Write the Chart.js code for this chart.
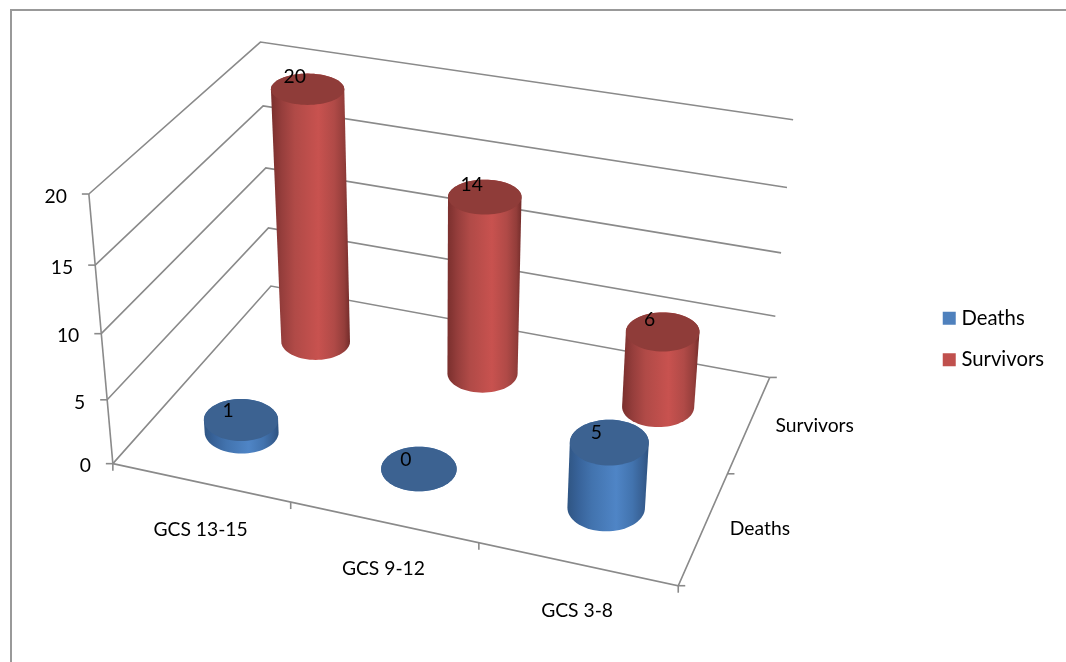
<!DOCTYPE html>
<html>
<head>
<meta charset="utf-8">
<style>
    html, body { margin: 0; padding: 0; background: #fff; overflow: hidden; }
    #frame { position: absolute; left: 10px; top: 9px; right: -4px; bottom: -4px; border: 2px solid #999; }
    #wrap { position: absolute; left: 0; top: 0; width: 1066px; height: 662px; }
</style>
</head>
<body>
<div id="frame"></div>
<div id="wrap"><canvas id="chart" width="1066" height="662"></canvas></div>
<script src="https://cdn.jsdelivr.net/npm/chart.js@4"></script>
<script>
const categories = ['GCS 13-15', 'GCS 9-12', 'GCS 3-8'];
const seriesNames = ['Deaths', 'Survivors'];
const deaths = [1, 0, 5];
const survivors = [20, 14, 6];

const FONT = { family: 'Lato', size: 19.3 };
const LEGEND_FONT = { family: 'Lato', size: 20.3 };
const LINE = '#8a8a8a';
const DEPTH_PERCENT = 0.41;

// Where the corners and grid ends of the 3D box sit on the page: [u, d, v, px, py]
const calibration = [
    [0, 0, 0, 113, 464], [1, 0, 0, 678, 586], [1, 1, 0, 770, 377], [0, 1, 0, 271, 286],
    [0, 0, 1, 89, 194], [0, 1, 1, 260, 42], [1, 1, 1, 793, 120],
    [0, 0, 0.75, 95.6, 265], [0, 0, 0.5, 101, 333], [0, 0, 0.25, 107, 400],
    [0, 1, 0.75, 263, 106], [0, 1, 0.5, 266, 168], [0, 1, 0.25, 268.5, 228],
    [1, 1, 0.75, 787.5, 187.5], [1, 1, 0.5, 781, 253], [1, 1, 0.25, 775, 316]
];

// Least squares fit of the camera matrix
function fitCamera(points) {
    const n = 11;
    const A = Array.from({ length: n }, () => new Array(n + 1).fill(0));
    const addRow = (row, rhs) => {
        for (let i = 0; i < n; i++) {
            for (let j = 0; j < n; j++) A[i][j] += row[i] * row[j];
            A[i][n] += row[i] * rhs;
        }
    };
    points.forEach(([u, d, v, px, py]) => {
        const x = px / 1000, y = py / 1000;
        addRow([u, d, v, 1, 0, 0, 0, 0, -x * u, -x * d, -x * v], x);
        addRow([0, 0, 0, 0, u, d, v, 1, -y * u, -y * d, -y * v], y);
    });
    for (let i = 0; i < n; i++) {
        let best = i;
        for (let r = i + 1; r < n; r++) if (Math.abs(A[r][i]) > Math.abs(A[best][i])) best = r;
        [A[i], A[best]] = [A[best], A[i]];
        for (let r = 0; r < n; r++) {
            if (r === i) continue;
            const f = A[r][i] / A[i][i];
            for (let c = i; c <= n; c++) A[r][c] -= f * A[i][c];
        }
    }
    return A.map((row, i) => row[n] / row[i]);
}

const cam = fitCamera(calibration);

function project(u, d, v) {
    const w = cam[8] * u + cam[9] * d + cam[10] * v + 1;
    return {
        x: 1000 * (cam[0] * u + cam[1] * d + cam[2] * v + cam[3]) / w,
        y: 1000 * (cam[4] * u + cam[5] * d + cam[6] * v + cam[7]) / w
    };
}

// Scale pixels to box fractions
const fracU = (chart, px) => (px - chart.chartArea.left) / chart.chartArea.width;
const fracV = (chart, px) => (chart.chartArea.bottom - px) / chart.chartArea.height;
const depthOf = (chart, index) => fracV(chart, chart.scales.depth.getPixelForValue(index));

function polyline(ctx, pts) {
    ctx.beginPath();
    pts.forEach((p, i) => i ? ctx.lineTo(p.x, p.y) : ctx.moveTo(p.x, p.y));
    ctx.stroke();
}

function tracePolygon(ctx, pts) {
    ctx.beginPath();
    pts.forEach((p, i) => i ? ctx.lineTo(p.x, p.y) : ctx.moveTo(p.x, p.y));
    ctx.closePath();
}

function convexHull(points) {
    const pts = points.slice().sort((a, b) => a.x - b.x || a.y - b.y);
    const cross = (o, a, b) => (a.x - o.x) * (b.y - o.y) - (a.y - o.y) * (b.x - o.x);
    const half = list => {
        const out = [];
        list.forEach(p => {
            while (out.length > 1 && cross(out[out.length - 2], out[out.length - 1], p) <= 0) out.pop();
            out.push(p);
        });
        out.pop();
        return out;
    };
    return half(pts).concat(half(pts.slice().reverse()));
}

// Cylinder end: a floor circle projected, then squared up to an upright ellipse
function disc(u, d, v, ru, rd) {
    const ring = [];
    for (let i = 0; i < 72; i++) {
        const t = i / 72 * Math.PI * 2;
        ring.push(project(u + ru * Math.cos(t), d + rd * Math.sin(t), v));
    }
    const xs = ring.map(p => p.x), ys = ring.map(p => p.y);
    const minX = Math.min(...xs), maxX = Math.max(...xs), minY = Math.min(...ys), maxY = Math.max(...ys);
    return ring.map((p, i) => {
        const t = i / 72 * Math.PI * 2;
        return {
            x: (minX + maxX) / 2 + (maxX - minX) / 2 * Math.cos(t),
            y: (minY + maxY) / 2 + (maxY - minY) / 2 * Math.sin(t)
        };
    });
}

// Bars drawn as cylinders standing on the floor of the box
class Cylinder3D extends Chart.BarController {
    draw() {
        const chart = this.chart;
        const ctx = chart.ctx;
        const dataset = this.getDataset();
        const d = depthOf(chart, seriesNames.indexOf(dataset.label));
        const rd = DEPTH_PERCENT / seriesNames.length / 2;
        this.getMeta().data.forEach(bar => {
            const u = fracU(chart, bar.x);
            const ru = bar.width / chart.chartArea.width / 2;
            const top = disc(u, d, fracV(chart, bar.y), ru, rd);
            const base = disc(u, d, fracV(chart, bar.base), ru, rd);
            const hull = convexHull(top.concat(base));
            const xs = hull.map(p => p.x);
            const grad = ctx.createLinearGradient(Math.min(...xs), 0, Math.max(...xs), 0);
            dataset.bodyStops.forEach(([at, color]) => grad.addColorStop(at, color));
            ctx.save();
            tracePolygon(ctx, hull);
            ctx.fillStyle = grad;
            ctx.fill();
            tracePolygon(ctx, top);
            ctx.fillStyle = dataset.topColor;
            ctx.fill();
            ctx.restore();
        });
    }
}
Cylinder3D.id = 'cylinder3d';
Cylinder3D.defaults = Chart.BarController.defaults;
Cylinder3D.overrides = Chart.BarController.overrides;
Chart.register(Cylinder3D);

const box3d = {
    id: 'box3d',
    beforeDatasetsDraw(chart) {
        const ctx = chart.ctx;
        ctx.save();
        ctx.strokeStyle = LINE;
        ctx.lineWidth = 1.6;
        ctx.fillStyle = '#000';
        ctx.font = `${FONT.size}px ${FONT.family}`;
        ctx.textBaseline = 'middle';

        // Walls and value axis
        const yScale = chart.scales.y;
        polyline(ctx, [project(0, 0, 0), project(0, 0, 1)]);
        yScale.ticks.forEach(tick => {
            const v = fracV(chart, yScale.getPixelForValue(tick.value));
            const front = project(0, 0, v);
            polyline(ctx, [front, project(0, 1, v), project(1, 1, v)]);
            polyline(ctx, [{ x: front.x - 7, y: front.y }, front]);
            ctx.textAlign = 'right';
            ctx.fillText(String(tick.value), front.x - 22, front.y + 2.5);
        });

        // Floor edges
        polyline(ctx, [project(0, 0, 0), project(1, 0, 0), project(1, 1, 0)]);

        // Category axis
        const xScale = chart.scales.x;
        ctx.textAlign = 'center';
        categories.forEach((name, i) => {
            const u = fracU(chart, xScale.getPixelForValue(i));
            const p = project(u, 0, 0);
            ctx.fillText(name, p.x, p.y + 47);
        });
        for (let i = 0; i <= categories.length; i++) {
            const p = project(i / categories.length, 0, 0);
            polyline(ctx, [p, { x: p.x, y: p.y + 7 }]);
        }

        // Depth axis
        ctx.textAlign = 'left';
        seriesNames.forEach((name, i) => {
            const p = project(1, depthOf(chart, i), 0);
            ctx.fillText(name, p.x + 26, p.y + 1.5);
        });
        for (let i = 0; i <= seriesNames.length; i++) {
            const p = project(1, i / seriesNames.length, 0);
            polyline(ctx, [p, { x: p.x + 7, y: p.y }]);
        }
        ctx.restore();
    },
    afterDatasetsDraw(chart) {
        // Value labels near the top of each cylinder
        const ctx = chart.ctx;
        ctx.save();
        ctx.fillStyle = '#000';
        ctx.font = `${FONT.size}px ${FONT.family}`;
        ctx.textAlign = 'center';
        ctx.textBaseline = 'middle';
        chart.data.datasets.forEach((dataset, di) => {
            const d = depthOf(chart, seriesNames.indexOf(dataset.label));
            chart.getDatasetMeta(di).data.forEach((bar, i) => {
                const p = project(fracU(chart, bar.x), d, fracV(chart, bar.y));
                ctx.fillText(String(dataset.data[i]), p.x - 13, p.y - dataset.labelLift);
            });
        });
        ctx.restore();
    }
};

new Chart(document.getElementById('chart'), {
    type: 'cylinder3d',
    data: {
        labels: categories,
        datasets: [
            {
                label: seriesNames[0],
                data: deaths,
                backgroundColor: '#4F81BD',
                topColor: '#3c6291',
                bodyStops: [[0, '#2f5583'], [0.14, '#38639a'], [0.3, '#4273ae'], [0.6, '#4f85c6'], [0.8, '#4273ae'], [0.93, '#375f92'], [1, '#2d5280']],
                labelLift: 9,
                clip: false
            },
            {
                label: seriesNames[1],
                data: survivors,
                backgroundColor: '#C0504D',
                topColor: '#8f3c39',
                bodyStops: [[0, '#7a2f2d'], [0.14, '#963e3c'], [0.3, '#b04a47'], [0.6, '#c8524f'], [0.8, '#b04a47'], [0.93, '#933d3a'], [1, '#732c2a']],
                labelLift: 12,
                clip: false
            }
        ]
    },
    options: {
        responsive: false,
        animation: false,
        layout: { padding: { top: 16, right: 12 } },
        datasets: { cylinder3d: { grouped: false, categoryPercentage: 1, barPercentage: 0.385 } },
        scales: {
            x: { type: 'category', offset: true, display: false },
            y: { type: 'linear', min: 0, max: 20, ticks: { stepSize: 5 }, display: false },
            depth: { type: 'category', axis: 'y', labels: seriesNames, offset: true, reverse: true, display: false }
        },
        plugins: {
            tooltip: { enabled: false },
            legend: {
                position: 'right',
                labels: {
                    color: '#000',
                    font: LEGEND_FONT,
                    usePointStyle: true,
                    pointStyle: 'rect',
                    boxWidth: 4,
                    boxHeight: 13,
                    padding: 21
                }
            }
        }
    },
    plugins: [box3d]
});
</script>
</body>
</html>
